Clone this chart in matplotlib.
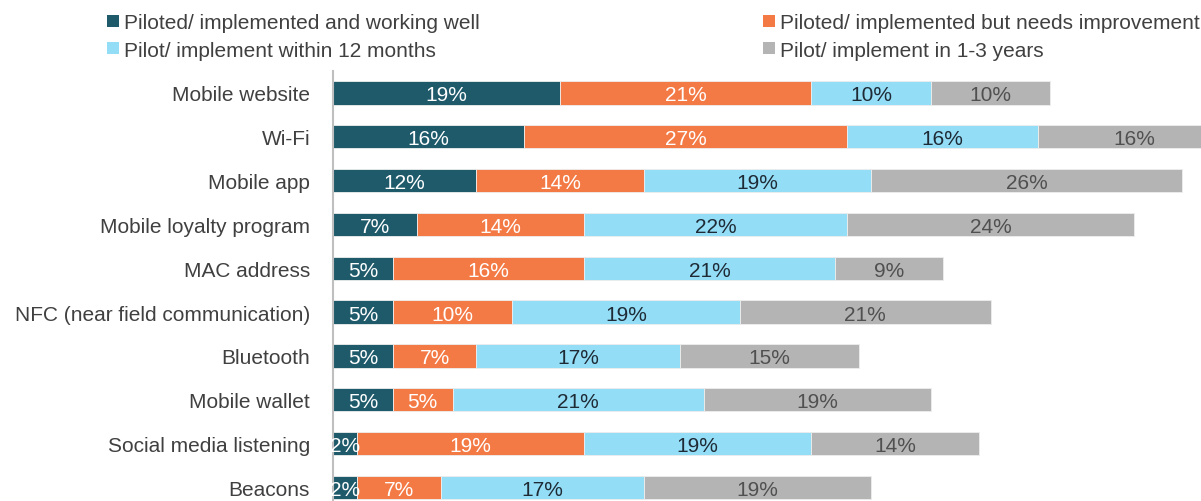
import matplotlib
matplotlib.use("Agg")
import matplotlib.pyplot as plt
from matplotlib.patches import Patch

plt.rcParams['font.family'] = ['Liberation Sans', 'DejaVu Sans']

# 데이터
categories = ["Mobile website", "Wi-Fi", "Mobile app", "Mobile loyalty program",
              "MAC address", "NFC (near field communication)", "Bluetooth",
              "Mobile wallet", "Social media listening", "Beacons"]
working_well = [19, 16, 12, 7, 5, 5, 5, 5, 2, 2]
needs_improvement = [21, 27, 14, 14, 16, 10, 7, 5, 19, 7]
within_12_months = [10, 16, 19, 22, 21, 19, 17, 21, 19, 17]
in_1_3_years = [10, 16, 26, 24, 9, 21, 15, 19, 14, 19]

series_names = ["Piloted/ implemented and working well",
                "Piloted/ implemented but needs improvement",
                "Pilot/ implement within 12 months",
                "Pilot/ implement in 1-3 years"]
colors = ['#1F5A6B', '#F47A45', '#94DDF6', '#B4B4B4']
text_colors = ['white', 'white', '#1E2B36', '#505050']

fig = plt.figure(figsize=(12.01, 5.02), dpi=100)
ax = fig.add_axes([333 / 1201, 0, 1 - 333 / 1201, (502 - 72) / 502])

y = range(len(categories))
left = [0] * len(categories)
for vals, c, tc in zip([working_well, needs_improvement, within_12_months, in_1_3_years],
                       colors, text_colors):
    ax.barh(y, vals, left=left, height=0.53, color=c, edgecolor='#EEEEEE', linewidth=0.6)
    for i, v in enumerate(vals):
        ax.text(left[i] + v / 2, i, f"{v}%", ha='center', va='center_baseline',
                color=tc, fontsize=15, clip_on=False)
    left = [l + v for l, v in zip(left, vals)]

ax.set_xlim(0, 72.6)
ax.set_ylim(9.31, -0.5)
ax.set_yticks(list(y))
ax.set_yticklabels(categories, fontsize=15, color='#404040')
ax.tick_params(axis='y', length=0, pad=16.5)
ax.set_xticks([])
for s in ['top', 'right', 'bottom']:
    ax.spines[s].set_visible(False)
ax.spines['left'].set_color('#BFBFBF')
ax.spines['left'].set_linewidth(1.5)

# 범례 (두 열)
handles = [Patch(facecolor=c) for c in colors]
leg_kw = dict(loc='upper left', frameon=False, fontsize=15, borderpad=0,
              handlelength=0.55, handleheight=0.55, handletextpad=0.25,
              labelspacing=0.39, labelcolor='#404040')
leg1 = fig.legend([handles[0], handles[2]], [series_names[0], series_names[2]],
                  bbox_to_anchor=(97 / 1201, 1 - 4 / 502), **leg_kw)
leg2 = fig.legend([handles[1], handles[3]], [series_names[1], series_names[3]],
                  bbox_to_anchor=(753 / 1201, 1 - 4 / 502), **leg_kw)

fig.savefig("out.png", dpi=100)
